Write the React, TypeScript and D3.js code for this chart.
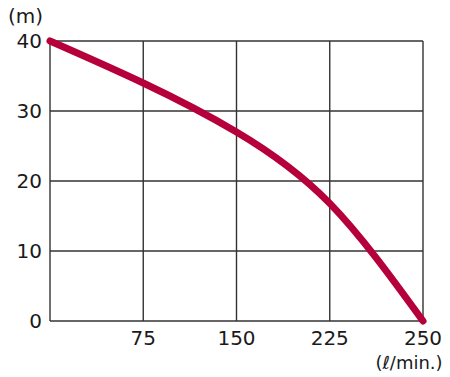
import React from "react";
import * as d3 from "d3";

// flow (l/min) vs head (m)
const flowTicks = [0, 75, 150, 225, 250];
const headTicks = [0, 10, 20, 30, 40];
const flow = [0, 75, 150, 225, 250];
const head = [40, 34.0, 27.0, 16.8, 0];

const width = 450;
const height = 377;
const margin = { top: 41, right: 27, bottom: 56, left: 50 };

const App = () => {
  const innerW = width - margin.left - margin.right;
  const innerH = height - margin.top - margin.bottom;

  // x axis is evenly spaced per tick, so use a polylinear scale
  const xScale = d3
    .scaleLinear()
    .domain(flowTicks)
    .range(flowTicks.map((_, i) => (i * innerW) / (flowTicks.length - 1)));

  const yScale = d3.scaleLinear().domain([0, 40]).range([innerH, 0]);

  const points: [number, number][] = flow.map((f, i) => [f, head[i]]);
  const line = d3
    .line<[number, number]>()
    .x((d) => xScale(d[0]))
    .y((d) => yScale(d[1]))
    .curve(d3.curveNatural);

  const font = "'DejaVu Sans', 'Liberation Sans', sans-serif";

  return (
    <svg
      width={width}
      height={height}
      style={{ position: "absolute", left: 0, top: 0, background: "#fff" }}
      fontFamily={font}
    >
      <g transform={`translate(${margin.left},${margin.top})`}>
        {/* grid */}
        {headTicks.map((t) => (
          <line
            key={"h" + t}
            x1={0}
            x2={innerW}
            y1={yScale(t)}
            y2={yScale(t)}
            stroke="#333"
            strokeWidth={1.4}
          />
        ))}
        {flowTicks.map((t) => (
          <line
            key={"v" + t}
            x1={xScale(t)}
            x2={xScale(t)}
            y1={0}
            y2={innerH}
            stroke="#333"
            strokeWidth={1.4}
          />
        ))}

        {/* y labels */}
        {headTicks.map((t) => (
          <text
            key={"yl" + t}
            x={-8}
            y={yScale(t)}
            dy="0.36em"
            textAnchor="end"
            fontSize={20}
            fill="#1a1a1a"
          >
            {t}
          </text>
        ))}

        {/* x labels (0 shared with y axis) */}
        {flowTicks.slice(1).map((t) => (
          <text
            key={"xl" + t}
            x={xScale(t)}
            y={innerH + 24}
            textAnchor="middle"
            fontSize={20}
            fill="#1a1a1a"
          >
            {t}
          </text>
        ))}

        <path
          d={line(points) || ""}
          fill="none"
          stroke="#b5003b"
          strokeWidth={7}
          strokeLinecap="round"
        />
      </g>

      <text x={8} y={23} fontSize={20} fill="#1a1a1a">
        (m)
      </text>
      <text x={409} y={369} textAnchor="middle" fontSize={18} fill="#1a1a1a">
        (ℓ/min.)
      </text>
    </svg>
  );
};

export default App;
